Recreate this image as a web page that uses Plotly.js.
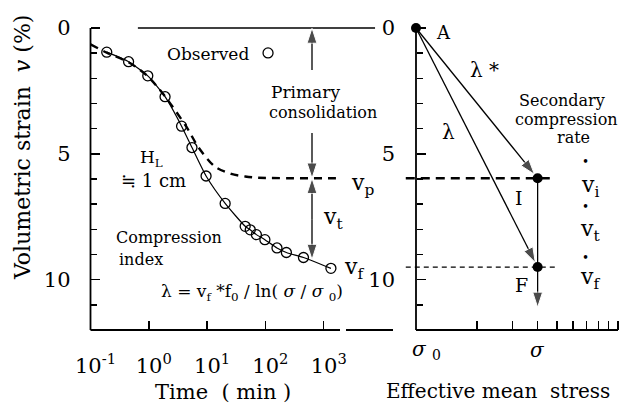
<!DOCTYPE html>
<html><head><meta charset="utf-8">
<script src="https://cdn.plot.ly/plotly-3.0.1.min.js"></script>
<style>
html,body{margin:0;padding:0;background:#fff}
#chart{width:631px;height:406px}
</style>
</head><body><div id="chart"></div>
<script>
// ---------------- DATA ----------------
// Left panel: observed volumetric strain (%) vs time (min)
const obsTime   = [0.19, 0.45, 0.96, 1.9, 3.65, 5.5, 9.6, 20.4, 45, 55, 70, 98, 158, 229, 450, 1330];
const obsStrain = [0.96, 1.34, 1.9, 2.73, 3.9, 4.75, 5.88, 6.97, 7.88, 8.02, 8.21, 8.41, 8.74, 8.92, 9.12, 9.55];
// Left panel: primary consolidation (theory) curve, dashed
const theoryTime   = [0.1, 0.19, 0.45, 0.96, 1.9, 4.4, 7.1, 13.6, 26, 45, 76, 2060];
const theoryStrain = [0.65, 0.98, 1.36, 1.92, 2.72, 3.92, 4.74, 5.51, 5.80, 5.90, 5.95, 5.97];
const timeTickVals = [0.1, 1, 10, 100, 1000];
const timeTickText = ['10<sup>-1</sup>', '10<sup>0</sup>', '10<sup>1</sup>', '10<sup>2</sup>', '10<sup>3</sup>'];
const strainTickVals = [0, 5, 10];
const strainTickText = ['0', '5', '10'];
const strainMinorVals = [1, 2, 3, 4, 6, 7, 8, 9, 11];
const topLineTime = [0.65, 7600];      // reference line at v = 0
const arrowTime = 630;                 // time at which vp / vt arrows are drawn
const vZero = 0;
const vPrimaryLabelLow = 1.67;         // arrow start under 0
const vPrimaryLabelHigh = 4.17;        // arrow start above vp
const vp = 5.97;                       // primary consolidation strain
const vtMid = 7.6;
const vAtArrow = 9.2;                  // observed strain at arrowTime
const legendTime = [111], legendStrain = [0.99];
// Right panel: strain vs effective mean stress (log)
const stressTickVals = [2, 3, 4, 5, 6, 7, 8, 9, 10];
const sigma0 = 1, sigma = 4;
const vI = 5.97, vF = 9.5, vEnd = 11.1;
const guideStress = [0.89, 4.88];

// ---------------- LAYOUT HELPERS ----------------
const W = 631, H = 406;
const FONT = 'DejaVu Serif';
const BLACK = '#000';
function px(x) { return x / W; }
function py(y) { return 1 - y / H; }
function ann(text, x, y, size, opts) {
  return Object.assign({
    text: text, xref: 'paper', yref: 'paper', x: px(x), y: py(y),
    xanchor: 'center', yanchor: 'middle', showarrow: false,
    font: {family: FONT, size: size, color: BLACK}
  }, opts || {});
}
function pline(x0, y0, x1, y1, w) {
  return {type: 'line', xref: 'paper', yref: 'paper', x0: px(x0), y0: py(y0), x1: px(x1), y1: py(y1),
          line: {color: BLACK, width: w || 1.6}};
}
function arrowTrace(xs, ys, xa, ya, standoff) {
  return {x: xs, y: ys, xaxis: xa, yaxis: ya, mode: 'lines+markers', type: 'scatter',
    line: {color: BLACK, width: 1.3},
    marker: {symbol: 'arrow', size: [0, 16], angleref: 'previous', standoff: standoff || 0, color: BLACK},
    hoverinfo: 'skip', showlegend: false, cliponaxis: false};
}

// ---------------- TRACES ----------------
const traces = [
  {x: theoryTime, y: theoryStrain, xaxis: 'x', yaxis: 'y', mode: 'lines', type: 'scatter',
   line: {color: BLACK, width: 2.4, dash: '8px,6px', shape: 'spline', smoothing: 0.8}, showlegend: false},
  {x: obsTime, y: obsStrain, xaxis: 'x', yaxis: 'y', mode: 'lines+markers', type: 'scatter',
   line: {color: BLACK, width: 1.2, shape: 'spline', smoothing: 0.6},
   marker: {symbol: 'circle-open', size: 10, color: BLACK, line: {width: 1.3}}, showlegend: false, cliponaxis: false},
  {x: legendTime, y: legendStrain, xaxis: 'x', yaxis: 'y', mode: 'markers', type: 'scatter',
   marker: {symbol: 'circle-open', size: 10, color: BLACK, line: {width: 1.3}}, showlegend: false},
  {x: topLineTime, y: [vZero, vZero], xaxis: 'x', yaxis: 'y', mode: 'lines', type: 'scatter',
   line: {color: BLACK, width: 1.4}, showlegend: false},
  arrowTrace([arrowTime, arrowTime], [vPrimaryLabelLow, vZero], 'x', 'y'),
  arrowTrace([arrowTime, arrowTime], [vPrimaryLabelHigh, vp], 'x', 'y'),
  arrowTrace([arrowTime, arrowTime], [vtMid, vp], 'x', 'y'),
  arrowTrace([arrowTime, arrowTime], [vtMid, vAtArrow], 'x', 'y'),
  {x: guideStress, y: [vI, vI], xaxis: 'x2', yaxis: 'y2', mode: 'lines', type: 'scatter',
   line: {color: BLACK, width: 2.4, dash: '9px,6px'}, showlegend: false},
  {x: guideStress, y: [vF, vF], xaxis: 'x2', yaxis: 'y2', mode: 'lines', type: 'scatter',
   line: {color: BLACK, width: 1.1, dash: '5px,4px'}, showlegend: false},
  arrowTrace([sigma0, sigma], [vZero, vI], 'x2', 'y2', 5),
  arrowTrace([sigma0, sigma], [vZero, vF], 'x2', 'y2', 5),
  arrowTrace([sigma, sigma], [vI, vEnd], 'x2', 'y2', 0),
  {x: [sigma0, sigma, sigma], y: [vZero, vI, vF], xaxis: 'x2', yaxis: 'y2', mode: 'markers', type: 'scatter',
   marker: {symbol: 'circle', size: 10, color: BLACK}, showlegend: false, cliponaxis: false}
];

// ---------------- AXES ----------------
const pxPerUnit = (330 - 28) / 12;
const yTop = 28 - 0.4 * pxPerUnit;
const yDomain = [py(330), py(yTop)];
const leftDecade = 58.3;
const leftX0 = 90.5, leftX1 = 393;
const rightDecade = 202;
const rightAxisX = 416, rightX1 = 620, rightX0 = 402;

const tickFont = {family: FONT, size: 21, color: BLACK};
const layout = {
  width: W, height: H, margin: {l: 0, r: 0, t: 0, b: 0},
  font: {family: FONT, color: BLACK},
  paper_bgcolor: '#fff', plot_bgcolor: 'rgba(0,0,0,0)', showlegend: false,
  xaxis: {type: 'log', domain: [px(leftX0), px(leftX1)], range: [-1, -1 + (leftX1 - leftX0) / leftDecade],
    anchor: 'y', showline: false, showgrid: false, zeroline: false,
    tickmode: 'array', tickvals: timeTickVals, ticktext: timeTickText,
    ticks: 'inside', ticklen: 9, tickwidth: 1.4, tickcolor: BLACK, tickfont: tickFont, ticklabelstandoff: 21, ticklabelshift: 5},
  yaxis: {domain: yDomain, range: [12, -0.4], anchor: 'x', showline: false, showgrid: false, zeroline: false,
    tickmode: 'array', tickvals: strainTickVals, ticktext: strainTickText,
    ticks: 'inside', ticklen: 9, tickwidth: 1.4, tickcolor: BLACK, tickfont: tickFont, ticklabelstandoff: 19,
    minor: {tickmode: 'array', tickvals: strainMinorVals, ticks: 'inside', ticklen: 6, tickwidth: 1.4, tickcolor: BLACK, showgrid: false}},
  xaxis2: {type: 'log', domain: [px(rightX0), px(rightX1)],
    range: [-(rightAxisX - rightX0) / rightDecade, (rightX1 - rightAxisX) / rightDecade],
    anchor: 'y2', showline: false, showgrid: false, zeroline: false,
    tickmode: 'array', tickvals: stressTickVals, showticklabels: false,
    ticks: 'inside', ticklen: 9, tickwidth: 1.4, tickcolor: BLACK},
  yaxis2: {domain: yDomain, range: [12, -0.4], anchor: 'free', position: px(rightAxisX), side: 'left',
    showline: false, showgrid: false, zeroline: false,
    tickmode: 'array', tickvals: strainTickVals, ticktext: strainTickText,
    ticks: 'inside', ticklen: 9, tickwidth: 1.4, tickcolor: BLACK, tickfont: tickFont, ticklabelstandoff: 21,
    minor: {tickmode: 'array', tickvals: strainMinorVals, ticks: 'inside', ticklen: 6, tickwidth: 1.4, tickcolor: BLACK, showgrid: false}},
  shapes: [
    pline(leftX0, 28, leftX0, 330, 1.8),
    pline(leftX0, 330, 340, 330, 1.8),
    pline(346, 330, 393, 330, 1.8),
    pline(rightAxisX, 28, rightAxisX, 330, 1.8),
    pline(rightAxisX, 330, 618, 330, 1.8)
  ],
  annotations: [
    ann('Volumetric\u00a0strain\u00a0\u00a0<i>v</i> (%)', 22, 148, 22, {textangle: -90}),
    ann('Time\u00a0\u00a0(\u00a0min\u00a0)', 223, 392, 21),
    ann('Effective mean\u00a0\u00a0stress', 498, 391, 20),
    ann('Observed', 208, 54, 17),
    ann('Primary', 269, 92, 17, {xanchor: 'left'}),
    ann('consolidation', 267, 112, 16, {xanchor: 'left'}),
    ann('H<sub>L</sub>', 151, 158, 17),
    ann('\u2252 1 cm', 153, 180, 18),
    ann('Compression', 114, 238, 16, {xanchor: 'left'}),
    ann('index', 117, 259, 16, {xanchor: 'left'}),
    ann('\u03bb = v<sub>f</sub> *f<sub>0</sub> / ln( <i>\u03c3</i> / <i>\u03c3</i> <sub>0</sub>)', 252, 292, 17),
    ann('v<sub>p</sub>', 349, 184, 22, {xanchor: 'left'}),
    ann('v<sub>t</sub>', 321, 219, 22, {xanchor: 'left'}),
    ann('v<sub>f</sub>', 342, 268, 22, {xanchor: 'left'}),
    ann('A', 443, 33, 18),
    ann('\u03bb *', 484, 70, 20),
    ann('\u03bb', 448, 132, 20),
    ann('Secondary', 562, 100, 16),
    ann('compression', 566, 119, 16),
    ann('rate', 573, 138, 16),
    ann('v<sub>i</sub>', 590, 186, 22),
    ann('v<sub>t</sub>', 590, 230, 22),
    ann('v<sub>f</sub>', 590, 278, 22),
    ann('\u2022', 585, 162, 12),
    ann('\u2022', 585, 207, 12),
    ann('\u2022', 585, 258, 12),
    ann('I', 519, 198, 19),
    ann('F', 521, 285, 19),
    ann('<i>\u03c3</i> <sub>0</sub>', 426, 350, 20),
    ann('<i>\u03c3</i>', 537, 350, 20)
  ]
};

Plotly.newPlot('chart', traces, layout, {staticPlot: true, displayModeBar: false});
</script>
</body></html>
